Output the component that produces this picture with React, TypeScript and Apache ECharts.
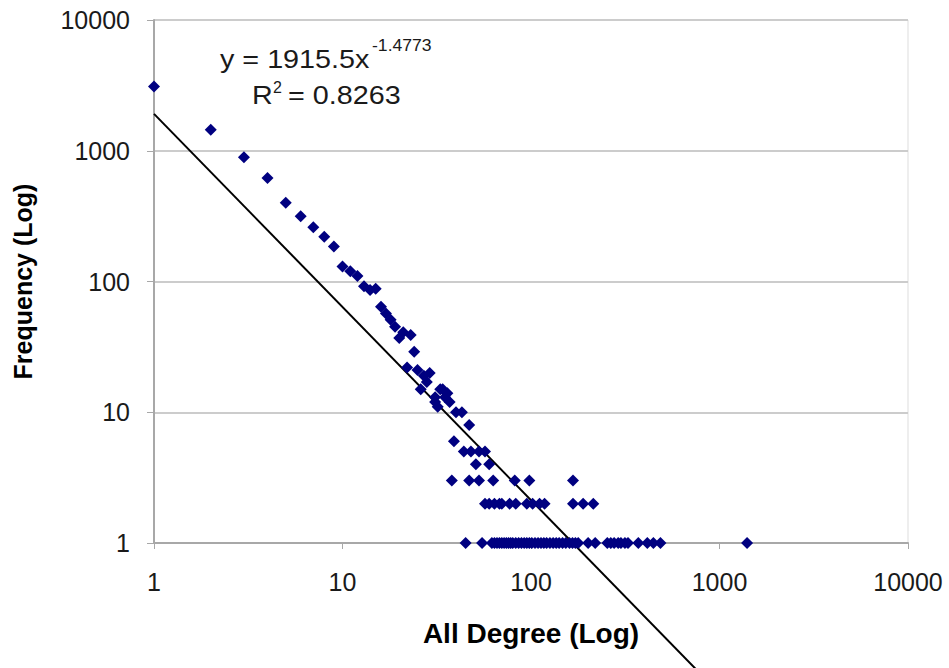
import React, { useEffect, useRef } from "react";
import * as echarts from "echarts";

// Degree (x) and frequency (y)
const degreeValues = [
  1, 2, 3, 4, 5, 6, 7, 8, 9, 10, 11, 12, 13, 14, 15, 16, 17, 18, 19, 20, 21, 23, 24,
  22, 25, 29, 27, 28, 26, 33, 34, 36, 31, 35, 31, 37, 32, 40, 43, 47, 39, 44, 48, 53, 57, 51, 60,
  38, 47, 53, 63, 82, 98, 167,
  57, 60, 64, 68, 70, 77, 83, 95, 102, 111, 118, 167, 189, 214,
  45, 55, 62, 64, 66, 68, 70, 72, 74, 76, 78, 80, 83, 86, 89, 92, 95, 98, 101, 105, 109, 113, 117,
  121, 126, 131, 136, 141, 147, 153, 160, 166, 172, 178, 201, 219, 254, 265, 276, 290, 300, 315,
  327, 371, 414, 446, 486, 1400,
];
const frequencyValues = [
  3100, 1450, 890, 620, 400, 315, 260, 220, 185, 130, 120, 110, 92, 86, 88, 64, 57, 51, 45, 37, 41, 39, 29,
  22, 21, 20, 19, 17, 15, 15, 15, 14, 13, 13, 12, 12, 11, 10, 10, 8, 6, 5, 5, 5, 5, 4, 4,
  3, 3, 3, 3, 3, 3, 3,
  2, 2, 2, 2, 2, 2, 2, 2, 2, 2, 2, 2, 2, 2,
  1, 1, 1, 1, 1, 1, 1, 1, 1, 1, 1, 1, 1, 1, 1, 1, 1, 1, 1, 1, 1, 1, 1,
  1, 1, 1, 1, 1, 1, 1, 1, 1, 1, 1, 1, 1, 1, 1, 1, 1, 1, 1,
  1, 1, 1, 1, 1, 1,
];

// Power trendline y = 1915.5x^-1.4773, endpoints at x = 1 and x = 1400
const trendX = [1, 1400];
const trendY = [1915.5, 0.0431];

const xTickLabels = ["1", "10", "100", "1000", "10000"];
const yTickLabels = ["1", "10", "100", "1000", "10000"];

const equationText = "y = 1915.5x";
const exponentText = "-1.4773";
const rSquaredLabel = "R";
const rSquaredSup = "2";
const rSquaredValue = "= 0.8263";

const FONT = "Arial, 'Liberation Sans', sans-serif";

export default function App() {
  const ref = useRef<HTMLDivElement>(null);

  useEffect(() => {
    if (!ref.current) return;
    const chart = echarts.init(ref.current, undefined, { renderer: "svg" });

    const points = degreeValues.map((d, i) => [d, frequencyValues[i]]);
    const trend = trendX.map((x, i) => [x, trendY[i]]);
    const labelFor = (arr: string[]) => (v: number) => {
      const idx = Math.round(Math.log10(v));
      return arr[idx] ?? String(v);
    };

    chart.setOption({
      animation: false,
      backgroundColor: "#ffffff",
      grid: {
        left: 154,
        right: 41,
        top: 20,
        bottom: 125,
        show: true,
        borderColor: "#dddddd",
        borderWidth: 1,
        backgroundColor: "transparent",
      },
      xAxis: {
        type: "log",
        logBase: 10,
        min: 1,
        max: 10000,
        name: "All Degree (Log)",
        nameLocation: "middle",
        nameGap: 76,
        nameTextStyle: { fontFamily: FONT, fontSize: 28, fontWeight: "bold", color: "#000" },
        axisLine: { show: true, lineStyle: { color: "#a8a8a8", width: 2 } },
        axisTick: { show: true, inside: false, length: 6, lineStyle: { color: "#a8a8a8" } },
        axisLabel: {
          fontFamily: FONT,
          fontSize: 25,
          color: "#1a1a1a",
          margin: 26,
          formatter: labelFor(xTickLabels),
        },
        splitLine: { show: false },
        minorTick: { show: false },
      },
      yAxis: {
        type: "log",
        logBase: 10,
        min: 1,
        max: 10000,
        name: "Frequency (Log)",
        nameLocation: "middle",
        nameGap: 119,
        nameTextStyle: { fontFamily: FONT, fontSize: 25, fontWeight: "bold", color: "#000" },
        axisLine: { show: true, lineStyle: { color: "#a8a8a8", width: 2 } },
        axisTick: { show: true, inside: false, length: 7, lineStyle: { color: "#a8a8a8" } },
        axisLabel: {
          fontFamily: FONT,
          fontSize: 25,
          color: "#1a1a1a",
          margin: 24,
          formatter: labelFor(yTickLabels),
        },
        splitLine: { show: true, lineStyle: { color: "#cccccc", width: 2, type: "solid" } },
      },
      series: [
        {
          type: "line",
          data: trend,
          showSymbol: false,
          symbol: "none",
          clip: false,
          lineStyle: { color: "#000000", width: 2 },
          z: 2,
          silent: true,
        },
        {
          type: "scatter",
          data: points,
          symbol: "diamond",
          symbolSize: 12,
          itemStyle: { color: "#000080", opacity: 1 },
          z: 3,
          silent: true,
        },
      ],
      graphic: [
        {
          type: "text",
          x: 220,
          y: 60,
          scaleX: 1.15,
          style: {
            text: equationText,
            x: 0,
            y: 0,
            font: `25px ${FONT}`,
            fill: "#1a1a1a",
            verticalAlign: "middle",
          },
        },
        {
          type: "text",
          x: 372,
          y: 46,
          scaleX: 1.1,
          style: {
            text: exponentText,
            x: 0,
            y: 0,
            font: `16px ${FONT}`,
            fill: "#1a1a1a",
            verticalAlign: "middle",
          },
        },
        {
          type: "text",
          x: 252,
          y: 96,
          scaleX: 1.15,
          style: {
            text: rSquaredLabel,
            x: 0,
            y: 0,
            font: `25px ${FONT}`,
            fill: "#1a1a1a",
            verticalAlign: "middle",
          },
        },
        {
          type: "text",
          x: 273,
          y: 87,
          style: {
            text: rSquaredSup,
            x: 0,
            y: 0,
            font: `16px ${FONT}`,
            fill: "#1a1a1a",
            verticalAlign: "middle",
          },
        },
        {
          type: "text",
          x: 288,
          y: 96,
          scaleX: 1.15,
          style: {
            text: rSquaredValue,
            x: 0,
            y: 0,
            font: `25px ${FONT}`,
            fill: "#1a1a1a",
            verticalAlign: "middle",
          },
        },
      ],
    });

    return () => {
      chart.dispose();
    };
  }, []);

  return (
    <div
      ref={ref}
      style={{
        position: "absolute",
        left: 0,
        top: 0,
        width: 949,
        height: 668,
        overflow: "hidden",
        background: "#ffffff",
      }}
    />
  );
}
